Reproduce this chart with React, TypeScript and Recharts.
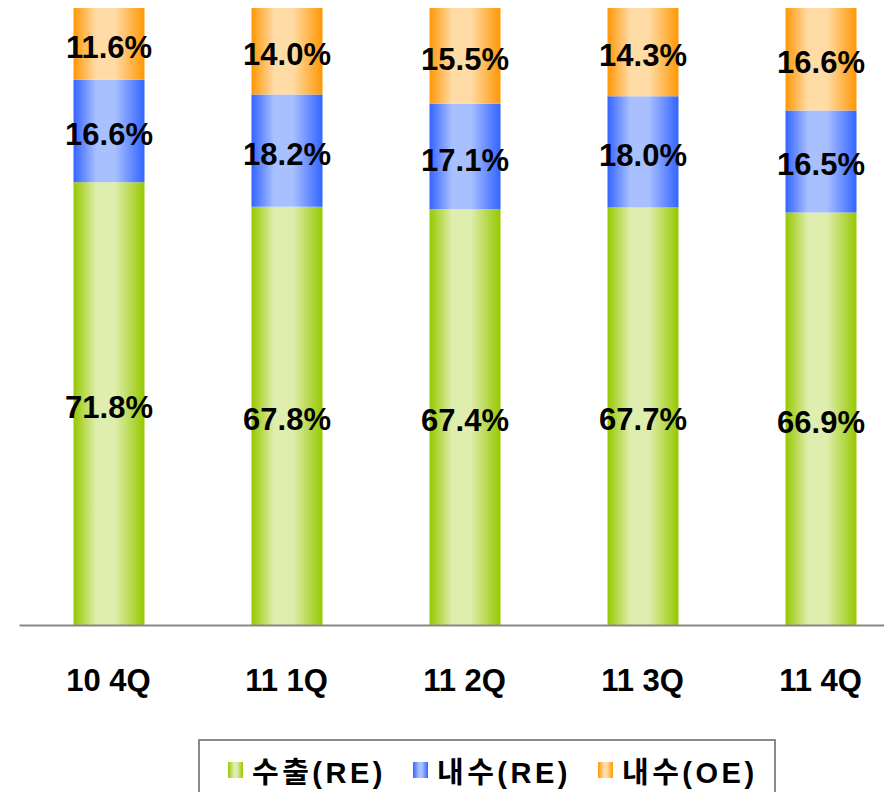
import React from 'react';
import { BarChart, Bar, XAxis, YAxis, LabelList, Legend } from 'recharts';

const categories = ['10 4Q', '11 1Q', '11 2Q', '11 3Q', '11 4Q'];
const exportRE = [71.8, 67.8, 67.4, 67.7, 66.9];
const domesticRE = [16.6, 18.2, 17.1, 18.0, 16.5];
const domesticOE = [11.6, 14.0, 15.5, 14.3, 16.6];
const seriesNames = ['수출(RE)', '내수(RE)', '내수(OE)'];

const data = categories.map((c, i) => ({
  name: c,
  exportRE: exportRE[i],
  domesticRE: domesticRE[i],
  domesticOE: domesticOE[i],
}));

const FONT = "Arial, 'Liberation Sans', 'Noto Sans CJK KR', sans-serif";

const grads = [
  { id: 'gGreen', edge: '#97c800', mid: '#dfeeae' },
  { id: 'gBlue', edge: '#3364ff', mid: '#a9c0ff' },
  { id: 'gOrange', edge: '#ff9705', mid: '#ffdca6' },
];

const fmt = (v: any) => `${Number(v).toFixed(1)}%`;

const Tick = (props: any) => {
  const { x, y, payload } = props;
  return (
    <text x={x} y={y + 63} textAnchor="middle" fontFamily={FONT} fontWeight="bold" fontSize={31} fill="#000">
      {payload.value}
    </text>
  );
};

const LegendBox = () => {
  const items = [
    { name: seriesNames[0], g: grads[0] },
    { name: seriesNames[1], g: grads[1] },
    { name: seriesNames[2], g: grads[2] },
  ];
  return (
    <div
      style={{
        boxSizing: 'border-box',
        width: 578,
        height: 62,
        border: '2px solid #8a8a8a',
        display: 'flex',
        alignItems: 'center',
        paddingLeft: 28,
        fontFamily: FONT,
        background: '#fff',
      }}
    >
      {items.map((it, i) => (
        <div key={i} style={{ display: 'flex', alignItems: 'center', width: i < 2 ? 185 : 'auto' }}>
          <div
            style={{
              width: 15,
              height: 16,
              background: `linear-gradient(to right, ${it.g.edge} 0%, ${it.g.mid} 40%, ${it.g.mid} 60%, ${it.g.edge} 100%)`,
              marginRight: 9,
            }}
          />
          <span style={{ fontSize: 29, fontWeight: 'bold', color: '#000', letterSpacing: 3.5, whiteSpace: 'nowrap' }}>
            {it.name}
          </span>
        </div>
      ))}
    </div>
  );
};

export default function App() {
  return (
    <div style={{ width: 884, height: 784, overflow: 'hidden', position: 'relative' }}>
      <BarChart
        width={901.5}
        height={784}
        data={data}
        margin={{ top: 0, right: 0, bottom: 0, left: 11.5 }}
        barCategoryGap={0}
      >
        <defs>
          {grads.map((g) => (
            <linearGradient key={g.id} id={g.id} x1="0" y1="0" x2="1" y2="0">
              <stop offset="0%" stopColor={g.edge} />
              <stop offset="32%" stopColor={g.mid} />
              <stop offset="58%" stopColor={g.mid} />
              <stop offset="100%" stopColor={g.edge} />
            </linearGradient>
          ))}
        </defs>
        <XAxis
          dataKey="name"
          height={166.5}
          tickLine={false}
          tickSize={0}
          axisLine={{ stroke: '#888888', strokeWidth: 2 }}
          tick={<Tick />}
          interval={0}
        />
        <YAxis hide domain={[0, 100]} />
        <Legend
          layout="horizontal"
          verticalAlign="middle"
          align="center"
          content={<LegendBox />}
          wrapperStyle={{ top: 731, left: 190, width: 578, height: 62 }}
        />
        <Bar dataKey="exportRE" name={seriesNames[0]} stackId="s" fill="url(#gGreen)" barSize={71} isAnimationActive={false}>
          <LabelList dataKey="exportRE" position="center" formatter={fmt} fill="#000" fontSize={31} fontWeight="bold" fontFamily={FONT} dy={3} />
        </Bar>
        <Bar dataKey="domesticRE" name={seriesNames[1]} stackId="s" fill="url(#gBlue)" barSize={71} isAnimationActive={false}>
          <LabelList dataKey="domesticRE" position="center" formatter={fmt} fill="#000" fontSize={31} fontWeight="bold" fontFamily={FONT} dy={3} />
        </Bar>
        <Bar dataKey="domesticOE" name={seriesNames[2]} stackId="s" fill="url(#gOrange)" barSize={71} isAnimationActive={false}>
          <LabelList dataKey="domesticOE" position="center" formatter={fmt} fill="#000" fontSize={31} fontWeight="bold" fontFamily={FONT} dy={3} />
        </Bar>
      </BarChart>
    </div>
  );
}
